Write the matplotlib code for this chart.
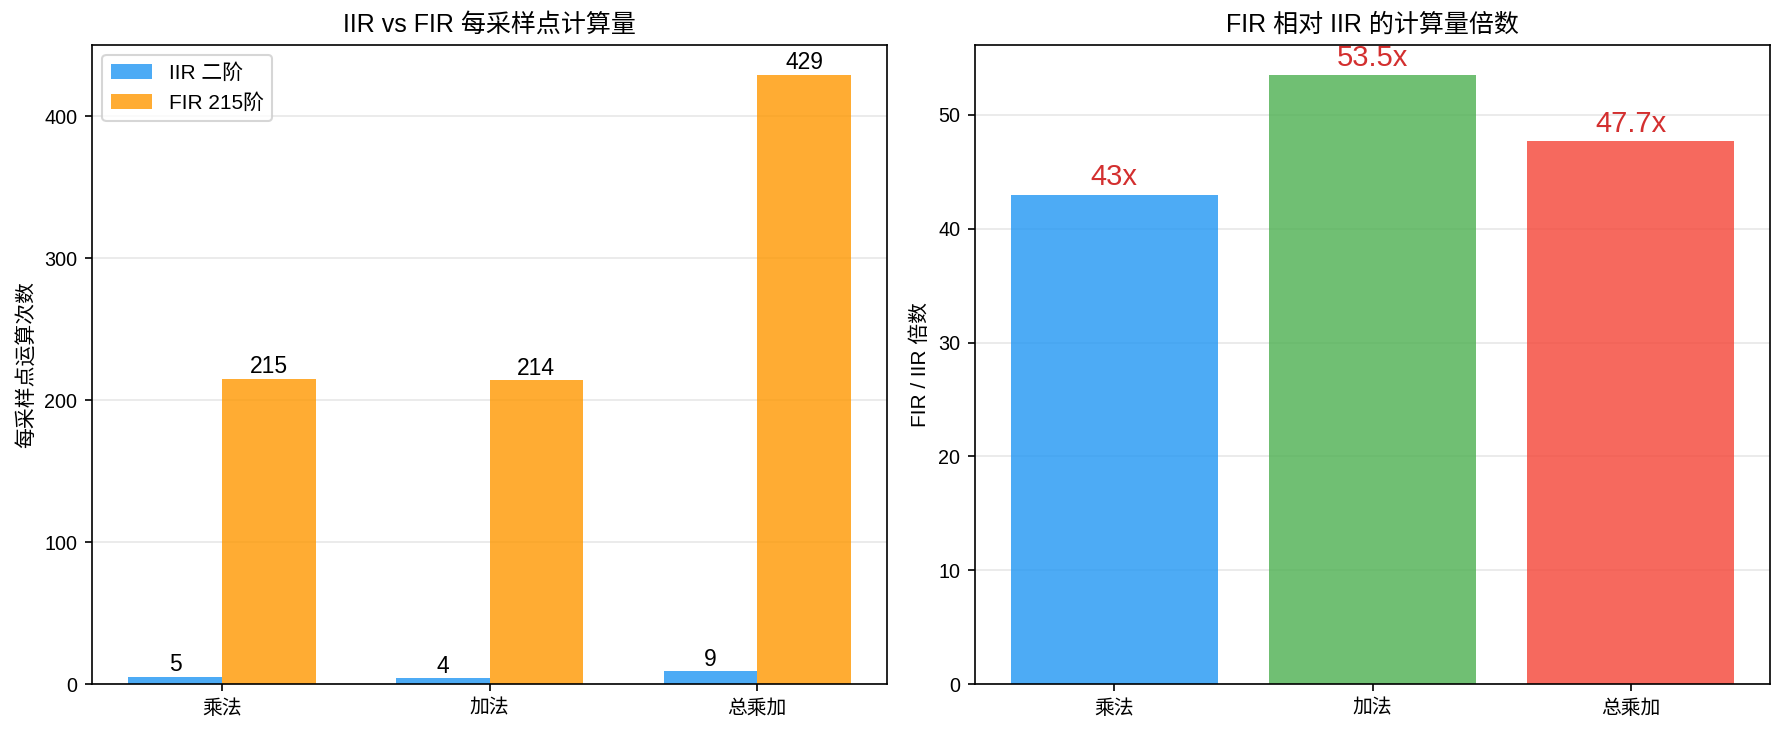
import matplotlib
matplotlib.use("Agg")
import matplotlib.pyplot as plt
import numpy as np

plt.rcParams['font.family'] = ['Liberation Sans', 'Noto Sans CJK SC', 'DejaVu Sans']
plt.rcParams['axes.unicode_minus'] = False

categories = ['乘法', '加法', '总乘加']
iir_ops = [5, 4, 9]
fir_ops = [215, 214, 429]
ratios = [43, 53.5, 47.7]
ratio_labels = ['43x', '53.5x', '47.7x']
series_names = ['IIR 二阶', 'FIR 215阶']

DPI = 150
fig = plt.figure(figsize=(1784 / DPI, 734 / DPI), dpi=DPI)
ax1 = fig.add_axes([0.0516, 0.0681, 0.4456, 0.8710])
ax2 = fig.add_axes([0.5465, 0.0681, 0.4457, 0.8710])

x = np.arange(len(categories))
w = 0.35
ax1.bar(x - w / 2, iir_ops, w, color='#2196F3', alpha=0.8, label=series_names[0])
ax1.bar(x + w / 2, fir_ops, w, color='#FF9800', alpha=0.8, label=series_names[1])
for xi, h in zip(x - w / 2, iir_ops):
    ax1.text(xi, h + 0.5, str(h), ha='center', va='bottom', fontsize=11)
for xi, h in zip(x + w / 2, fir_ops):
    ax1.text(xi, h + 0.5, str(h), ha='center', va='bottom', fontsize=11)
ax1.set_xticks(x)
ax1.set_xticklabels(categories)
ax1.tick_params(labelsize=9.5)
ax1.set_ylabel('每采样点运算次数', fontsize=10)
ax1.set_title('IIR vs FIR 每采样点计算量', fontsize=12)
ax1.legend(loc='upper left', fontsize=10)
ax1.grid(axis='y', alpha=0.3)
ax1.set_axisbelow(True)

colors = ['#2196F3', '#4CAF50', '#F44336']
ax2.bar(x, ratios, 0.8, color=colors, alpha=0.8)
for xi, h, lab in zip(x, ratios, ratio_labels):
    ax2.text(xi, h + 0.3, lab, ha='center', va='bottom', fontsize=14, color='#D32F2F')
ax2.set_xticks(x)
ax2.set_xticklabels(categories)
ax2.tick_params(labelsize=9.5)
ax2.set_ylabel('FIR / IIR 倍数', fontsize=10)
ax2.set_title('FIR 相对 IIR 的计算量倍数', fontsize=12)
ax2.grid(axis='y', alpha=0.3)
ax2.set_axisbelow(True)

fig.savefig('out.png', dpi=DPI)
